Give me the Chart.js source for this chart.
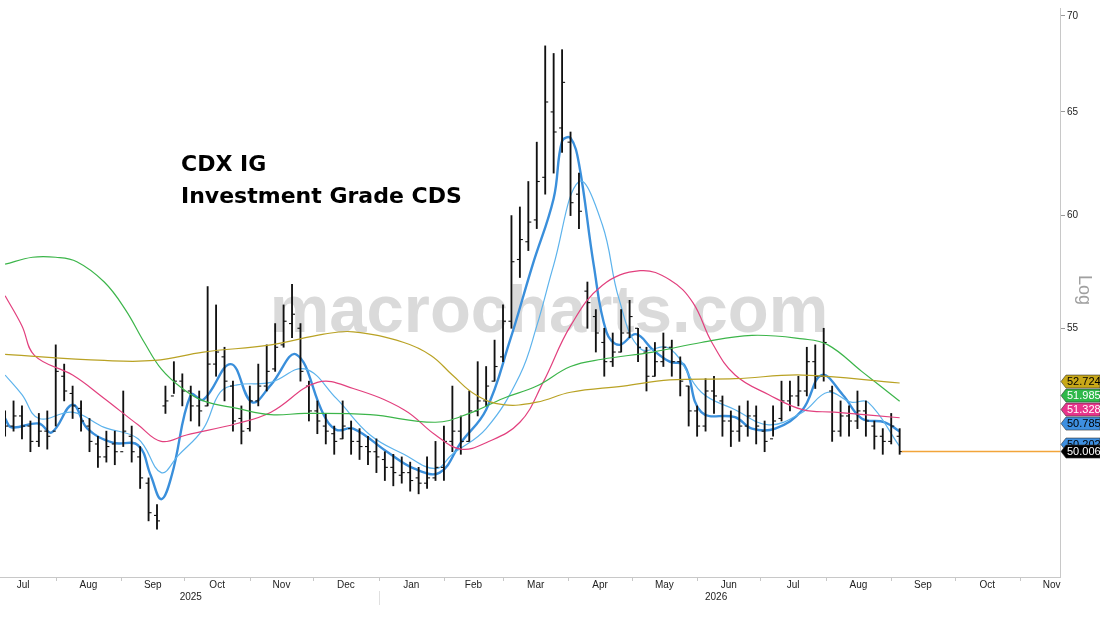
<!DOCTYPE html>
<html>
<head>
<meta charset="utf-8">
<script src="https://cdn.jsdelivr.net/npm/chart.js@4"></script>
<style>
  html, body { margin: 0; padding: 0; background: #ffffff; }
  #wrap { width: 1100px; height: 619px; position: relative; }
</style>
</head>
<body>
<div id="wrap"><canvas id="cdxChart"></canvas></div>
<script>
/* ================= DATA ================= */
// x values are days since 2025-07-01, one bar every 4 days
const barStartDay = 7;
const barStepDays = 4;

const opens = [51.3, 51.0, 51.4, 51.0, 50.4, 50.8, 50.8, 53.0, 52.3, 51.7,
  51.0, 50.3, 49.8, 50.3, 50.0, 50.6, 49.8, 48.8, 47.6, 51.8,
  52.2, 52.8, 52.4, 51.8, 51.8, 53.5, 53.8, 52.6, 51.3, 50.9,
  52.0, 52.6, 53.3, 54.3, 55.2, 55.0, 52.6, 51.6, 51.0, 50.7,
  50.5, 50.9, 50.4, 50.2, 50.0, 49.7, 49.4, 49.1, 49.2, 49.0,
  48.8, 49.0, 49.4, 50.4, 50.8, 50.4, 51.6, 52.0, 52.8, 53.8,
  55.3, 58.0, 58.8, 59.8, 61.8, 65.0, 64.2, 63.5, 61.0, 56.6,
  55.5, 54.4, 53.6, 54.0, 54.8, 55.0, 54.0, 53.0, 53.6, 54.2,
  53.6, 52.6, 51.6, 51.0, 52.4, 52.0, 51.2, 50.8, 51.0, 51.4,
  50.8, 50.5, 51.3, 52.0, 52.2, 52.4, 53.6, 53.0, 52.4, 50.8,
  51.4, 51.2, 51.6, 51.0, 50.6, 50.4, 50.6];
const highs = [51.6, 52.0, 51.8, 51.2, 51.5, 51.6, 54.3, 53.5, 52.6, 52.0,
  51.3, 50.6, 50.8, 50.8, 52.4, 51.0, 50.2, 49.0, 48.0, 52.6,
  53.6, 53.1, 52.6, 52.4, 56.8, 56.0, 54.2, 52.8, 51.8, 52.6,
  53.5, 54.3, 55.2, 56.0, 56.9, 55.2, 52.8, 52.0, 51.5, 51.0,
  52.0, 51.2, 50.9, 50.6, 50.5, 50.0, 49.9, 49.8, 49.6, 49.4,
  49.8, 50.4, 51.0, 52.6, 51.4, 52.4, 53.6, 53.4, 54.5, 56.0,
  60.0, 60.4, 61.6, 63.5, 68.4, 68.0, 68.2, 64.0, 62.0, 57.0,
  55.8, 55.0, 54.8, 55.8, 56.2, 55.0, 54.2, 54.4, 54.8, 54.5,
  53.8, 52.6, 51.8, 52.9, 53.0, 52.2, 51.6, 51.8, 52.0, 51.8,
  51.2, 51.8, 52.8, 52.8, 53.0, 54.2, 54.3, 55.0, 52.6, 52.0,
  51.8, 52.4, 52.0, 51.2, 50.9, 51.5, 50.9];
const lows = [50.6, 50.8, 50.5, 50.0, 50.2, 50.1, 51.0, 52.0, 51.3, 50.8,
  50.0, 49.4, 49.6, 49.5, 50.2, 49.6, 48.6, 47.4, 47.1, 51.5,
  52.3, 51.8, 51.2, 51.0, 51.8, 53.0, 52.0, 50.8, 50.3, 50.8,
  51.8, 52.4, 53.2, 54.2, 54.6, 52.8, 51.2, 50.7, 50.3, 49.9,
  50.5, 49.9, 49.7, 49.5, 49.2, 48.9, 48.7, 48.8, 48.5, 48.4,
  48.6, 48.9, 48.9, 50.0, 49.9, 50.4, 51.4, 51.8, 52.8, 53.6,
  55.0, 57.2, 58.4, 59.4, 61.0, 62.0, 63.0, 60.0, 59.4, 55.0,
  54.0, 53.0, 53.4, 54.0, 54.6, 53.6, 52.4, 53.0, 53.4, 53.0,
  52.2, 51.0, 50.6, 50.8, 51.5, 50.6, 50.2, 50.4, 50.6, 50.3,
  50.0, 50.6, 51.2, 51.6, 51.8, 52.2, 52.5, 52.8, 50.4, 50.6,
  50.6, 50.9, 50.6, 50.1, 49.9, 50.3, 49.9];
const closes = [51.0, 51.4, 51.0, 50.4, 50.8, 50.6, 53.2, 52.4, 51.8, 51.2,
  50.4, 49.8, 50.2, 50.0, 50.8, 50.0, 49.0, 47.7, 47.4, 52.0,
  52.8, 52.4, 51.8, 51.6, 53.5, 54.0, 52.8, 51.2, 50.8, 52.0,
  52.6, 53.2, 54.2, 55.3, 55.6, 53.2, 51.6, 51.2, 50.8, 50.4,
  51.0, 50.4, 50.2, 50.0, 49.8, 49.4, 49.2, 49.2, 48.9, 48.8,
  49.0, 49.4, 50.4, 50.8, 50.4, 51.6, 52.0, 52.6, 53.4, 55.3,
  57.9, 58.9, 59.7, 61.6, 65.5, 64.0, 66.5, 60.6, 60.2, 56.1,
  54.8, 53.6, 54.0, 54.8, 55.5, 54.2, 53.0, 53.6, 54.2, 53.6,
  52.8, 51.6, 51.0, 52.4, 52.2, 51.2, 50.8, 51.0, 51.4, 51.0,
  50.4, 51.2, 52.0, 52.2, 52.4, 53.6, 53.0, 54.4, 50.8, 51.4,
  51.2, 51.6, 51.2, 50.6, 50.4, 51.0, 50.006];

// moving averages: [day, value]
const maShortPts = [[7,51.3],[10,50.95],[23,51.1],[29,50.75],[39,51.85],[46,50.9],[58,50.35],[70,50.25],
  [76,49.1],[81,48.2],[86,49.1],[95,52.25],[101,52.05],[114,53.5],[124,51.95],[133,52.65],[145,53.9],
  [158,51.45],[164,50.85],[172,50.9],[188,50.0],[201,49.35],[213,49.2],[223,50.35],[235,51.65],
  [246,54.4],[257,57.75],[267,60.8],[271,63.55],[275,63.7],[279,62.45],[286,57.75],[292,54.85],
  [298,54.3],[306,54.75],[314,54.1],[322,53.6],[329,53.45],[337,51.55],[353,51.35],[361,50.9],
  [372,50.9],[385,51.65],[394,53.05],[404,52.25],[413,51.3],[424,51.15],[431,50.785]];
const maMidPts = [[7,53.05],[15,52.25],[23,51.3],[39,51.55],[54,50.95],[70,50.5],[81,49.2],[89,49.85],
  [101,50.9],[109,52.35],[117,52.65],[133,52.75],[149,53.3],[164,52.1],[180,50.65],[196,49.9],
  [211,49.35],[219,49.9],[235,50.9],[251,53.05],[259,55.1],[267,57.75],[279,61.6],[290,59.6],
  [298,56.25],[308,54.15],[322,54.15],[337,52.35],[353,51.65],[369,51.05],[385,51.55],[397,52.35],
  [408,51.95],[416,51.95],[431,50.202]];
const ma50Pts = [[7,56.4],[15,55.1],[21,53.85],[39,53.05],[54,52.1],[70,51.05],[81,50.4],[93,50.65],
  [117,51.1],[133,51.55],[155,52.75],[172,52.5],[196,51.65],[211,50.65],[223,50.1],[235,50.35],
  [251,51.15],[262,52.75],[275,55.1],[290,56.85],[308,57.5],[322,57.1],[333,56.1],[342,54.4],
  [353,53.05],[369,52.25],[385,51.65],[400,51.55],[431,51.328]];
const ma100Pts = [[7,57.79],[20,58.1],[31,58.1],[41,57.9],[54,57.0],[64,55.8],[73,54.4],[81,53.3],
  [91,52.5],[101,52.0],[117,51.7],[133,51.45],[149,51.5],[180,51.45],[211,51.15],[227,51.5],
  [243,52.1],[259,52.6],[275,53.4],[290,53.7],[314,54.0],[337,54.4],[361,54.7],[385,54.55],
  [397,54.3],[413,53.2],[431,51.985]];
const ma200Pts = [[7,53.9],[54,53.65],[78,53.65],[101,54.0],[133,54.3],[158,54.75],[172,54.85],
  [196,54.4],[209,53.85],[219,53.05],[230,52.25],[243,51.85],[259,51.95],[275,52.35],[300,52.6],
  [322,52.85],[353,52.9],[385,53.05],[431,52.724]];

const yTicks = [55, 60, 65, 70];
const monthNames = ["Jul","Aug","Sep","Oct","Nov","Dec","Jan","Feb","Mar","Apr","May","Jun","Jul","Aug","Sep","Oct","Nov"];
const monthStarts = [0, 31, 62, 92, 123, 153, 184, 215, 243, 274, 304, 335, 365, 396, 427, 457, 488, 518];
const yearLabels = ["2025", "2026"];
const yearLabelDays = [95, 344];

const tagValues = [52.724, 51.985, 51.328, 50.785, 50.202, 50.006];
const tagColors = ["#c8a818", "#2fb84a", "#e8358c", "#3d8fe0", "#3d8fe0", "#000000"];
const tagText = ["#000000", "#ffffff", "#ffffff", "#000000", "#000000", "#ffffff"];

/* ================= BUILD ================= */
const barDays = closes.map((c, i) => barStartDay + i * barStepDays);
const rangeData = barDays.map((d, i) => ({ x: d, y: [lows[i], highs[i]] }));
const openData = barDays.map((d, i) => ({ x: d, y: opens[i] }));
const closeData = barDays.map((d, i) => ({ x: d, y: closes[i] }));
const toXY = pts => pts.map(p => ({ x: p[0], y: p[1] }));

function lineSet(pts, color, width) {
  return {
    type: "line",
    data: toXY(pts),
    borderColor: color,
    borderWidth: width,
    pointRadius: 0,
    tension: 0.4,
    fill: false
  };
}

/* ================= PLUGIN: decorations ================= */
const decorations = {
  id: "decorations",
  beforeDatasetsDraw(chart) {
    const ctx = chart.ctx;
    ctx.save();
    ctx.font = "bold 67px 'Liberation Sans', Arial, sans-serif";
    ctx.fillStyle = "rgba(205,205,205,0.75)";
    ctx.textAlign = "center";
    ctx.textBaseline = "middle";
    ctx.fillText("macrocharts.com", 549, 314);
    ctx.restore();
  },
  afterDraw(chart) {
    const ctx = chart.ctx;
    const xs = chart.scales.x;
    const ys = chart.scales.y;
    const area = chart.chartArea;
    ctx.save();

    // title
    ctx.fillStyle = "#000000";
    ctx.font = "bold 22px 'DejaVu Sans', Verdana, sans-serif";
    ctx.textAlign = "left";
    ctx.textBaseline = "middle";
    ctx.fillText("CDX IG", 181, 165);
    ctx.fillText("Investment Grade CDS", 181, 197);

    // bottom axis line + month ticks
    ctx.strokeStyle = "#c8c8c8";
    ctx.lineWidth = 1;
    ctx.beginPath();
    ctx.moveTo(0, area.bottom + 0.5);
    ctx.lineTo(area.right, area.bottom + 0.5);
    ctx.stroke();
    ctx.beginPath();
    monthStarts.forEach(d => {
      const px = xs.getPixelForValue(d);
      if (px < area.left || px > area.right) return;
      ctx.moveTo(Math.round(px) + 0.5, area.bottom);
      ctx.lineTo(Math.round(px) + 0.5, area.bottom + 4);
    });
    ctx.stroke();

    ctx.fillStyle = "#222222";
    ctx.font = "10px 'Liberation Sans', Arial, sans-serif";
    ctx.textAlign = "center";
    ctx.textBaseline = "middle";
    monthNames.forEach((m, i) => {
      const mid = (monthStarts[i] + monthStarts[i + 1]) / 2;
      const px = xs.getPixelForValue(mid);
      ctx.fillText(m, px, area.bottom + 8);
    });
    yearLabels.forEach((y, i) => {
      ctx.fillText(y, xs.getPixelForValue(yearLabelDays[i]), area.bottom + 20);
    });
    ctx.strokeStyle = "#e0e0e0";
    const sep = Math.round(xs.getPixelForValue(monthStarts[6])) + 0.5;
    ctx.beginPath();
    ctx.moveTo(sep, area.bottom + 14);
    ctx.lineTo(sep, area.bottom + 28);
    ctx.stroke();

    // last price line
    const lastY = ys.getPixelForValue(closes[closes.length - 1]);
    ctx.strokeStyle = "#f2a53a";
    ctx.lineWidth = 1.5;
    ctx.beginPath();
    ctx.moveTo(xs.getPixelForValue(barDays[barDays.length - 1]) + 2, lastY);
    ctx.lineTo(area.right, lastY);
    ctx.stroke();

    // "Log" label
    ctx.save();
    ctx.translate(1084, 290);
    ctx.rotate(Math.PI / 2);
    ctx.fillStyle = "#a0a0a0";
    ctx.font = "18px 'Liberation Sans', Arial, sans-serif";
    ctx.textAlign = "center";
    ctx.fillText("Log", 0, 0);
    ctx.restore();

    // value tags, stacked upward from the last price
    const tagH = 13;
    const pos = tagValues.map(v => ys.getPixelForValue(v));
    for (let i = pos.length - 2; i >= 0; i--) {
      if (pos[i] > pos[i + 1] - tagH - 1) pos[i] = pos[i + 1] - tagH - 1;
    }
    pos[4] = pos[5] - 7; // partly hidden behind the last tag in the original
    pos[3] = Math.min(pos[3], pos[4] - 11);
    ctx.font = "11px 'Liberation Sans', Arial, sans-serif";
    ctx.textAlign = "left";
    [0, 1, 2, 3, 4, 5].forEach(i => {
      const cy = pos[i];
      const x0 = area.right + 1;
      ctx.fillStyle = tagColors[i];
      ctx.beginPath();
      ctx.moveTo(x0, cy);
      ctx.lineTo(x0 + 5, cy - tagH / 2);
      ctx.lineTo(1100, cy - tagH / 2);
      ctx.lineTo(1100, cy + tagH / 2);
      ctx.lineTo(x0 + 5, cy + tagH / 2);
      ctx.closePath();
      ctx.fill();
      ctx.strokeStyle = "#333333";
      ctx.lineWidth = 0.6;
      ctx.stroke();
      ctx.fillStyle = tagText[i];
      ctx.fillText(tagValues[i].toFixed(3), x0 + 6, cy + 0.5);
    });
    ctx.restore();
  }
};

/* ================= CHART ================= */
new Chart(document.getElementById("cdxChart").getContext("2d"), {
  data: {
    datasets: [
      lineSet(ma200Pts, "#b9a224", 1.2),
      lineSet(ma100Pts, "#3cb54a", 1.2),
      lineSet(ma50Pts, "#e2407e", 1.2),
      {
        type: "bar",
        data: rangeData,
        backgroundColor: "#111111",
        barThickness: 1.2,
        grouped: false
      },
      {
        type: "scatter",
        data: openData,
        pointStyle: "dash",
        rotation: 180,
        radius: 3,
        borderColor: "#111111",
        borderWidth: 1.1
      },
      {
        type: "scatter",
        data: closeData,
        pointStyle: "dash",
        radius: 3,
        borderColor: "#111111",
        borderWidth: 1.1
      },
      lineSet(maMidPts, "#5db3ec", 1.2),
      lineSet(maShortPts, "#3a8fdb", 2.4)
    ]
  },
  options: {
    responsive: true,
    maintainAspectRatio: false,
    animation: false,
    events: [],
    layout: { padding: { top: 0, right: 0, bottom: 42, left: 0 } },
    plugins: {
      legend: { display: false },
      tooltip: { enabled: false }
    },
    scales: {
      x: {
        type: "linear",
        min: 7,
        max: 507,
        offset: false,
        bounds: "ticks",
        display: false
      },
      y: {
        type: "logarithmic",
        position: "right",
        min: 45.39,
        max: 70.43,
        afterBuildTicks: axis => { axis.ticks = yTicks.map(v => ({ value: v })); },
        afterFit: axis => { axis.width = 40; },
        grid: {
          drawOnChartArea: false,
          drawTicks: true,
          tickLength: 5,
          color: "#999999"
        },
        border: { color: "#c8c8c8" },
        ticks: {
          color: "#222222",
          padding: 2,
          font: { size: 10, family: "'Liberation Sans', Arial, sans-serif" },
          callback: v => v
        }
      }
    }
  },
  plugins: [decorations]
});
</script>
</body>
</html>
